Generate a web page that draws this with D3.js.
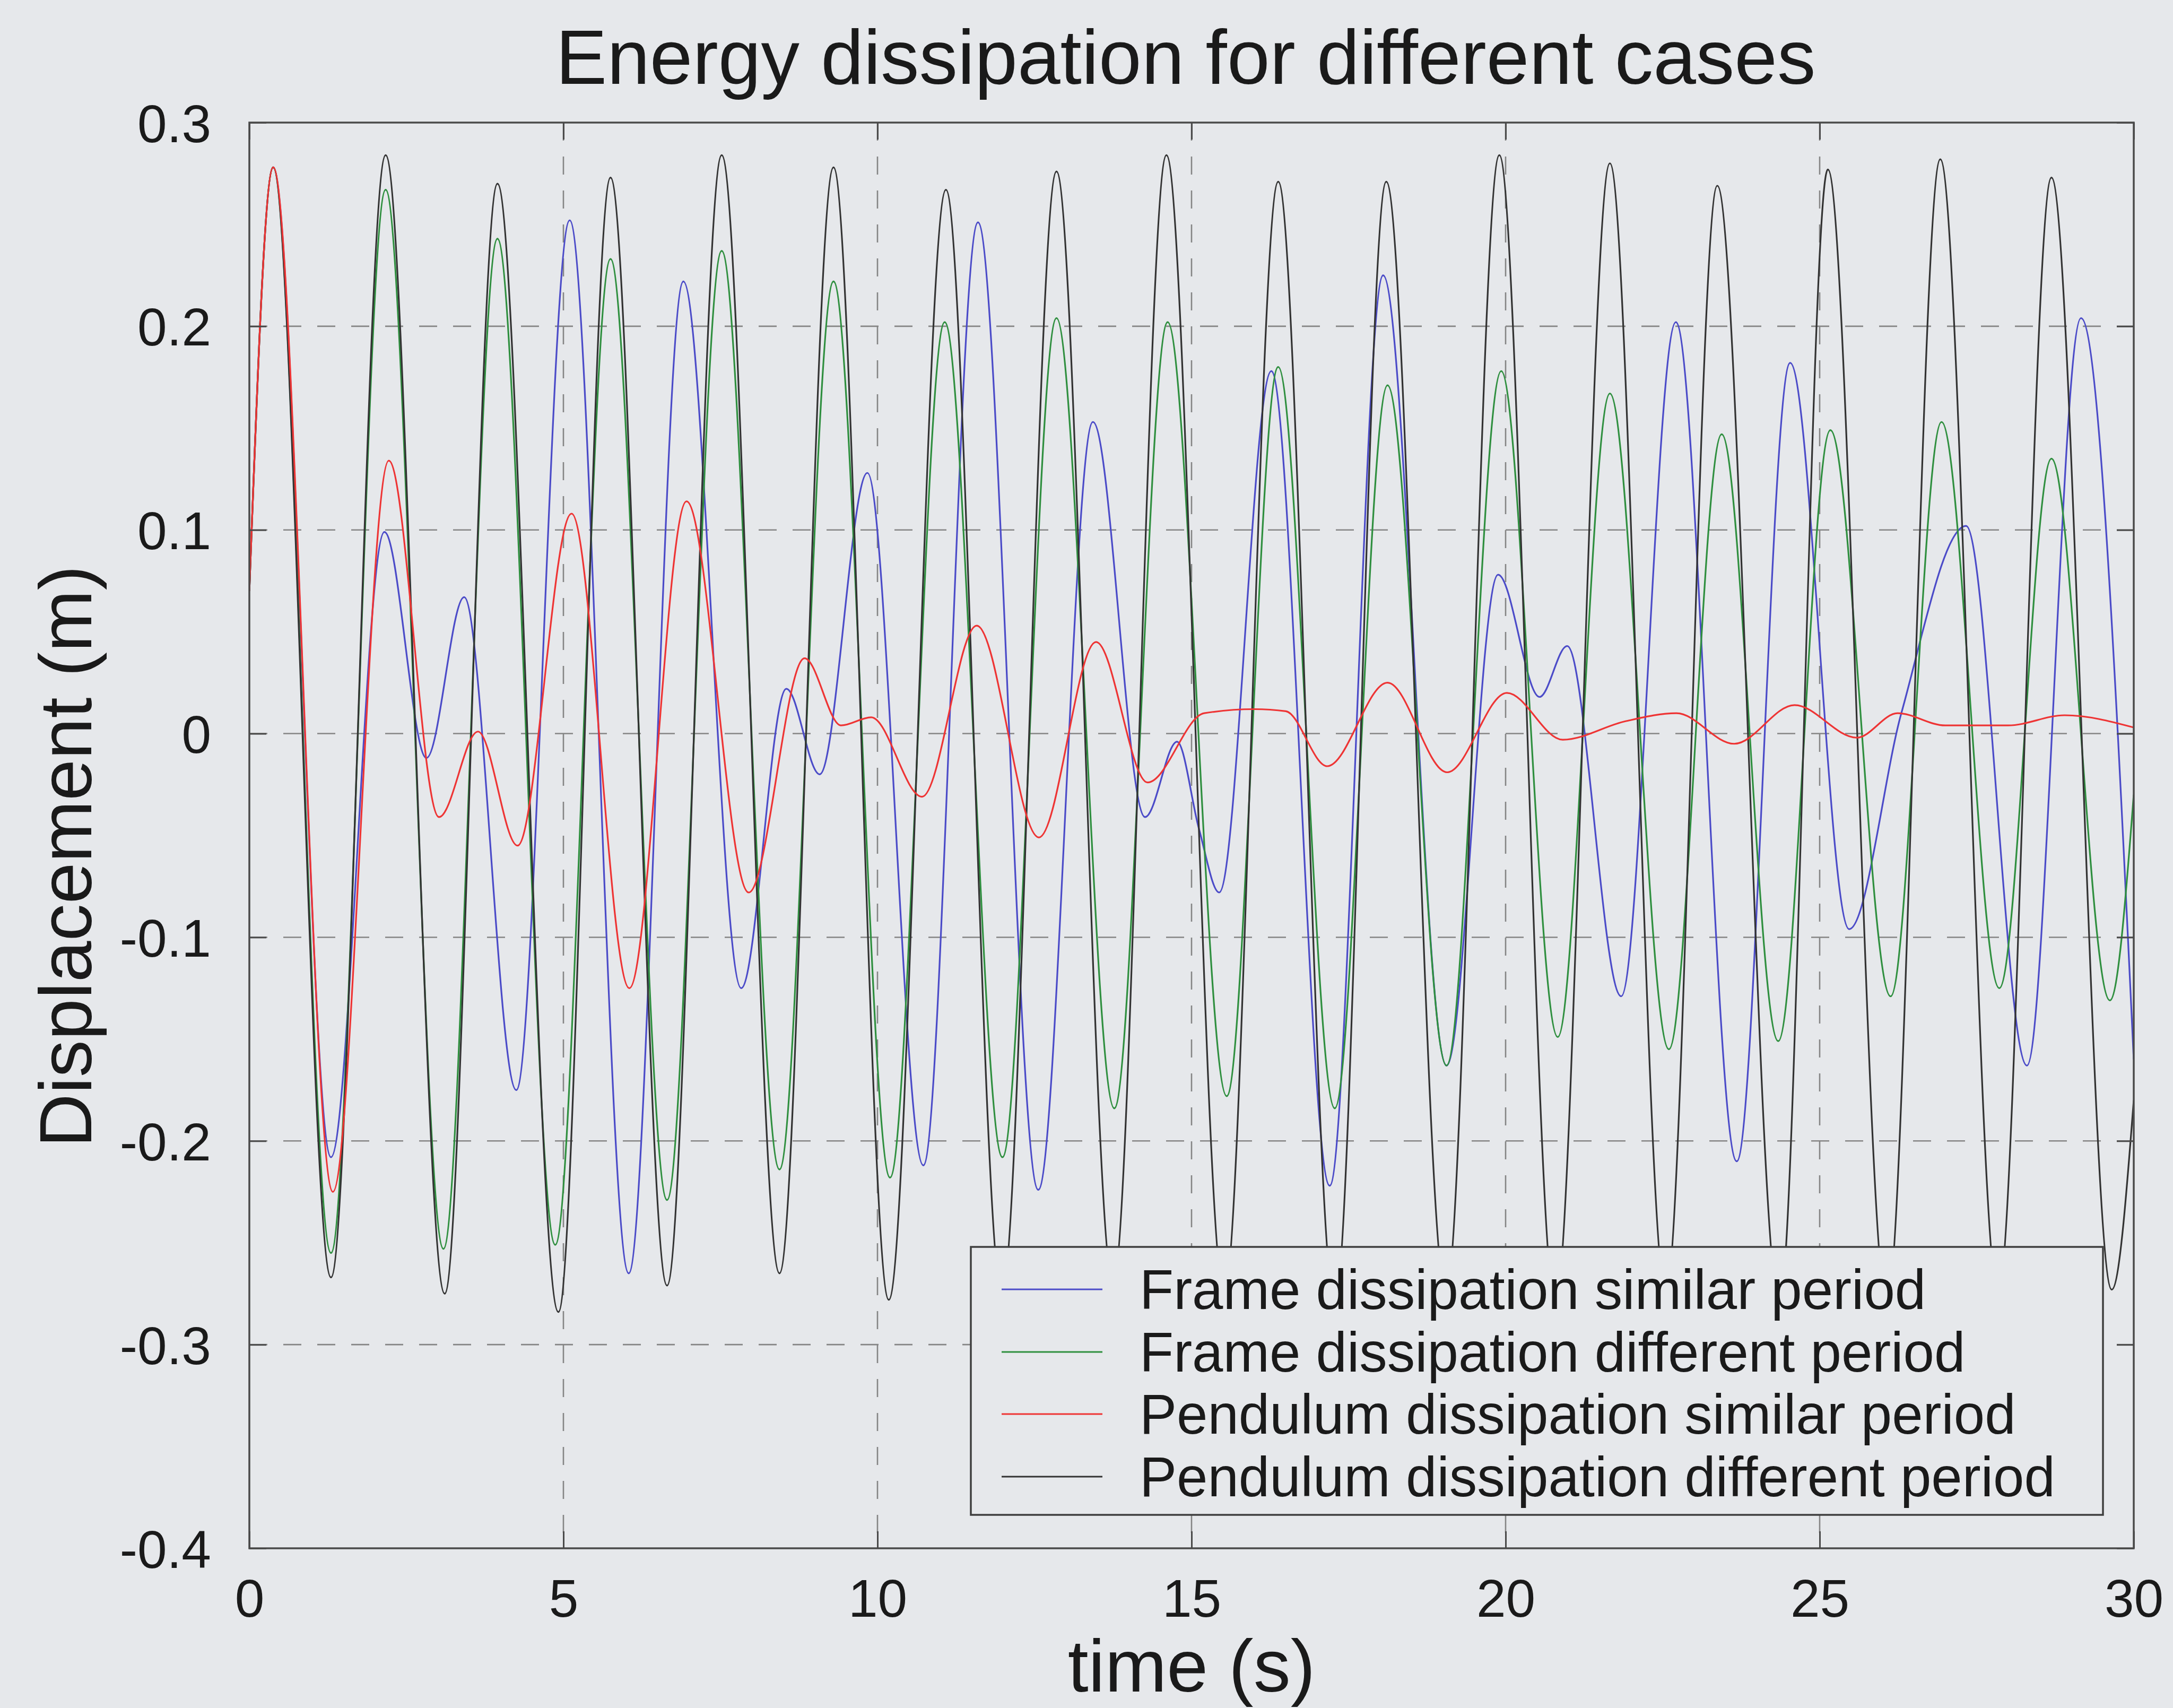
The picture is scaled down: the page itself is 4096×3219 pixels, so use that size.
<!DOCTYPE html>
<html>
<head>
<meta charset="utf-8">
<script src="https://cdn.jsdelivr.net/npm/d3@7"></script>
<style>
  html, body { margin: 0; padding: 0; background: #e6e8eb; }
  svg { display: block; }
  text { font-family: "Liberation Sans", Arial, Helvetica, sans-serif; fill: #1a1a1a; }
</style>
</head>
<body>
<script>
// ---------------- DATA ----------------
const chartTitle = "Energy dissipation for different cases";
const xLabel = "time (s)";
const yLabel = "Displacement (m)";
const xTicks = [0, 5, 10, 15, 20, 25, 30];
const xTickLabels = ["0", "5", "10", "15", "20", "25", "30"];
const yTicks = [-0.4, -0.3, -0.2, -0.1, 0, 0.1, 0.2, 0.3];
const yTickLabels = ["-0.4", "-0.3", "-0.2", "-0.1", "0", "0.1", "0.2", "0.3"];
const seriesNames = [
  "Frame dissipation similar period",
  "Frame dissipation different period",
  "Pendulum dissipation similar period",
  "Pendulum dissipation different period"
];

// Frame dissipation similar period (blue): time / displacement at turning points
const frameSimilarT = [0, 0.38, 1.30, 2.15, 2.82, 3.42, 4.25, 5.10, 6.04, 6.91, 7.83, 8.55, 9.08, 9.84, 10.73, 11.60, 12.56, 13.43, 14.26, 14.77, 15.12, 15.44, 16.27, 17.20, 18.05, 19.06, 19.88, 20.54, 20.98, 21.84, 22.71, 23.68, 24.53, 25.47, 26.30, 27.33, 28.30, 29.16, 30];
const frameSimilarV = [0.07, 0.278, -0.208, 0.099, -0.012, 0.067, -0.175, 0.252, -0.265, 0.222, -0.125, 0.022, -0.020, 0.128, -0.212, 0.251, -0.224, 0.153, -0.041, -0.004, -0.047, -0.078, 0.178, -0.222, 0.225, -0.163, 0.078, 0.018, 0.043, -0.129, 0.202, -0.210, 0.182, -0.096, 0.010, 0.102, -0.163, 0.204, -0.160];

// Frame dissipation different period (green)
const frameDifferentT = [0, 0.38, 1.30, 2.17, 3.09, 3.95, 4.87, 5.75, 6.65, 7.52, 8.44, 9.30, 10.20, 11.07, 11.99, 12.85, 13.77, 14.62, 15.56, 16.38, 17.28, 18.12, 19.06, 19.93, 20.83, 21.66, 22.60, 23.44, 24.34, 25.17, 26.13, 26.94, 27.86, 28.69, 29.62, 30];
const frameDifferentV = [0.07, 0.278, -0.255, 0.267, -0.253, 0.243, -0.251, 0.233, -0.229, 0.237, -0.214, 0.222, -0.218, 0.202, -0.208, 0.204, -0.184, 0.202, -0.178, 0.180, -0.184, 0.171, -0.163, 0.178, -0.149, 0.167, -0.155, 0.147, -0.151, 0.149, -0.129, 0.153, -0.125, 0.135, -0.131, -0.030];

// Pendulum dissipation similar period (red)
const pendSimilarT = [0, 0.38, 1.33, 2.22, 3.02, 3.64, 4.27, 5.13, 6.05, 6.96, 7.95, 8.84, 9.42, 9.90, 10.71, 11.58, 12.57, 13.48, 14.30, 15.20, 16.00, 16.50, 17.16, 18.12, 19.07, 20.02, 20.91, 21.90, 22.72, 23.64, 24.60, 25.59, 26.24, 27.00, 28.00, 28.90, 30];
const pendSimilarV = [0.07, 0.278, -0.225, 0.134, -0.041, 0.001, -0.055, 0.108, -0.125, 0.114, -0.078, 0.037, 0.004, 0.008, -0.031, 0.053, -0.051, 0.045, -0.024, 0.010, 0.012, 0.011, -0.016, 0.025, -0.019, 0.020, -0.003, 0.006, 0.010, -0.005, 0.014, -0.002, 0.010, 0.004, 0.004, 0.009, 0.003];

// Pendulum dissipation different period (black)
const pendDifferentT = [0, 0.38, 1.30, 2.17, 3.11, 3.95, 4.92, 5.75, 6.65, 7.52, 8.44, 9.30, 10.18, 11.09, 11.98, 12.85, 13.75, 14.60, 15.52, 16.38, 17.28, 18.10, 19.05, 19.90, 20.79, 21.66, 22.55, 23.37, 24.36, 25.13, 26.07, 26.92, 27.84, 28.69, 29.65, 30];
const pendDifferentV = [0.07, 0.278, -0.267, 0.284, -0.275, 0.270, -0.284, 0.273, -0.271, 0.284, -0.265, 0.278, -0.278, 0.267, -0.275, 0.276, -0.270, 0.284, -0.275, 0.271, -0.280, 0.271, -0.275, 0.284, -0.280, 0.280, -0.275, 0.269, -0.280, 0.277, -0.280, 0.282, -0.275, 0.273, -0.273, -0.180];

const seriesColors = ["#4b4bc8", "#2f8f3f", "#ee3434", "#333333"];

// ---------------- LAYOUT ----------------
const W = 4096, H = 3219;
const plot = { left: 470, right: 4022, top: 231, bottom: 2918 };
const bg = "#e6e8eb";

const svg = d3.select("body").append("svg").attr("width", W).attr("height", H);
svg.append("rect").attr("width", W).attr("height", H).attr("fill", bg);

const x = d3.scaleLinear().domain([0, 30]).range([plot.left, plot.right]);
const y = d3.scaleLinear().domain([-0.4, 0.3]).range([plot.bottom, plot.top]);

// plot background
svg.append("rect").attr("x", plot.left).attr("y", plot.top)
  .attr("width", plot.right - plot.left).attr("height", plot.bottom - plot.top)
  .attr("fill", bg);

// grid
const grid = svg.append("g").attr("stroke", "#858585").attr("stroke-width", 2.6)
  .attr("stroke-dasharray", "34,30");
grid.selectAll("line.vx").data(xTicks.slice(1, -1)).join("line")
  .attr("x1", d => x(d)).attr("x2", d => x(d))
  .attr("y1", plot.top).attr("y2", plot.bottom);
grid.selectAll("line.hy").data(yTicks.slice(1, -1)).join("line")
  .attr("x1", plot.left).attr("x2", plot.right)
  .attr("y1", d => y(d)).attr("y2", d => y(d));

// clip
svg.append("clipPath").attr("id", "clip").append("rect")
  .attr("x", plot.left).attr("y", plot.top)
  .attr("width", plot.right - plot.left).attr("height", plot.bottom - plot.top);

const line = d3.line().x(d => x(d[0])).y(d => y(d[1])).curve(d3.curveMonotoneX);
const zip = (t, v) => t.map((tt, i) => [tt, v[i]]);
const series = [
  { name: seriesNames[0], data: zip(frameSimilarT, frameSimilarV), color: seriesColors[0] },
  { name: seriesNames[1], data: zip(frameDifferentT, frameDifferentV), color: seriesColors[1] },
  { name: seriesNames[2], data: zip(pendSimilarT, pendSimilarV), color: seriesColors[2] },
  { name: seriesNames[3], data: zip(pendDifferentT, pendDifferentV), color: seriesColors[3] }
];
const drawOrder = [0, 1, 3, 2];
const lines = svg.append("g").attr("clip-path", "url(#clip)");
drawOrder.forEach(i => {
  lines.append("path").datum(series[i].data)
    .attr("fill", "none").attr("stroke", series[i].color)
    .attr("stroke-width", 3.2).attr("stroke-linejoin", "round")
    .attr("d", line);
});

// axes (MATLAB-like box with inward ticks)
const tickLen = 32;
const axisColor = "#4a4a4a";
const axB = svg.append("g").attr("transform", `translate(0,${plot.bottom})`)
  .call(d3.axisBottom(x).tickValues(xTicks).tickSize(-tickLen).tickPadding(58)
    .tickFormat((d, i) => xTickLabels[i]));
const axT = svg.append("g").attr("transform", `translate(0,${plot.top})`)
  .call(d3.axisTop(x).tickValues(xTicks).tickSize(-tickLen).tickFormat(""));
const axL = svg.append("g").attr("transform", `translate(${plot.left},0)`)
  .call(d3.axisLeft(y).tickValues(yTicks).tickSize(-tickLen).tickPadding(72)
    .tickFormat((d, i) => yTickLabels[i]));
const axR = svg.append("g").attr("transform", `translate(${plot.right},0)`)
  .call(d3.axisRight(y).tickValues(yTicks).tickSize(-tickLen).tickFormat(""));
[axB, axT, axL, axR].forEach(g => {
  g.select(".domain").remove();
  g.selectAll(".tick line").attr("stroke", axisColor).attr("stroke-width", 3);
  g.selectAll(".tick text").attr("font-size", 100).attr("fill", "#1a1a1a")
    .attr("font-family", "'Liberation Sans', Arial, Helvetica, sans-serif");
});
axL.selectAll(".tick text").attr("dy", "0.36em");
axB.selectAll(".tick text").attr("dy", "0.71em");

svg.append("rect").attr("x", plot.left).attr("y", plot.top)
  .attr("width", plot.right - plot.left).attr("height", plot.bottom - plot.top)
  .attr("fill", "none").attr("stroke", axisColor).attr("stroke-width", 3.5);

// legend
const leg = { x: 1830, y: 2350, w: 2134, h: 505 };
const lg = svg.append("g");
lg.append("rect").attr("x", leg.x).attr("y", leg.y).attr("width", leg.w).attr("height", leg.h)
  .attr("fill", bg).attr("stroke", "#3f3f3f").attr("stroke-width", 3.5);
const rowBase = [2467, 2585, 2702, 2820];
series.forEach((s, i) => {
  lg.append("line").attr("x1", 1888).attr("x2", 2078)
    .attr("y1", rowBase[i] - 37).attr("y2", rowBase[i] - 37)
    .attr("stroke", s.color).attr("stroke-width", 3.2);
  lg.append("text").attr("x", 2148).attr("y", rowBase[i])
    .attr("font-size", 105).text(s.name);
});

// title & axis labels
svg.append("text").attr("x", 2235).attr("y", 158).attr("text-anchor", "middle")
  .attr("font-size", 145).text(chartTitle);
svg.append("text").attr("x", (plot.left + plot.right) / 2).attr("y", 3188)
  .attr("text-anchor", "middle").attr("font-size", 140).text(xLabel);
svg.append("text").attr("transform", `translate(172,1614) rotate(-90)`)
  .attr("text-anchor", "middle").attr("font-size", 140).text(yLabel);
</script>
</body>
</html>
